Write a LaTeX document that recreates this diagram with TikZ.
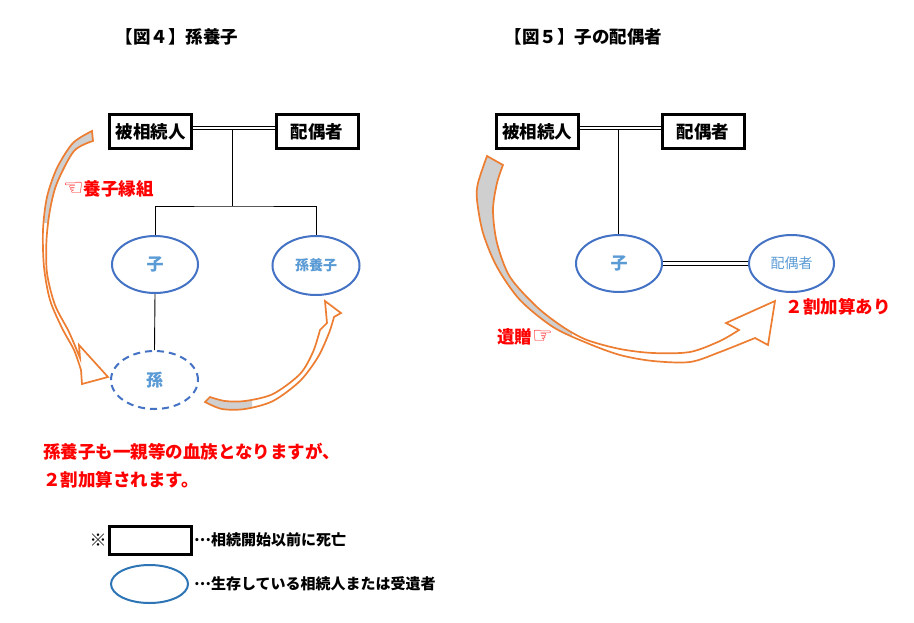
\documentclass[tikz,border=0pt]{standalone}
\usepackage{fontspec}
\setmainfont{Noto Sans CJK JP}
\newfontfamily\djv{DejaVu Sans}
\usetikzlibrary{calc,shapes.geometric}
\definecolor{arrorange}{HTML}{ED7D31}
\definecolor{ribgray}{HTML}{CFCFCF}
\definecolor{ellblue}{HTML}{4472C4}
\definecolor{txtblue}{HTML}{5B9BD5}
\definecolor{legblue}{HTML}{2E75B6}
\definecolor{jred}{HTML}{FF0000}
\newcommand{\hand}[1]{{\djv\fontsize{23}{20}\selectfont #1}}
\newcommand{\middots}{\raisebox{0.3em}{…}}
\begin{document}
\begin{tikzpicture}[x=1pt,y=-1pt,
  deadbox/.style={draw=black,line width=3pt,minimum width=82pt,minimum height=34pt,inner sep=0pt,font=\fontsize{17.5}{20}\selectfont\bfseries},
  legbox/.style={draw=black,line width=3pt,minimum width=82pt,minimum height=28pt,inner sep=0pt},
  liveell/.style={ellipse,draw=ellblue,line width=2pt,inner sep=0pt,text=txtblue,minimum width=86pt,minimum height=57pt},
  bigtxt/.style={font=\fontsize{17}{20}\selectfont\bfseries},
  legell/.style={ellipse,draw=legblue,line width=2pt,inner sep=0pt,minimum width=77pt,minimum height=38pt},
  titletxt/.style={font=\fontsize{17.5}{20}\selectfont\bfseries},
  redlbl/.style={text=jred,font=\fontsize{17.5}{20}\selectfont\bfseries,inner sep=0pt},
  legtxt/.style={font=\fontsize{15}{18}\selectfont\bfseries,inner sep=0pt,anchor=west},
  famline/.style={draw=black,line width=0.9pt},
  dbl/.style={draw=black,line width=1pt,double=white,double distance=2.6pt},
  ribbon/.style={draw=arrorange,line width=1.7pt,line join=miter}
]
\useasboundingbox[fill=white] (0,0) rectangle (914,622);

% titles
\node[titletxt] (tt1) at (177,37) {【図４】孫養子};
\node[titletxt] (tt2) at (583.5,37) {【図５】子の配偶者};

% ---------- left diagram ----------
\node[deadbox] (h1) at (150.5,131.5) {被相続人};
\node[deadbox] (s1) at (317,131.5) {配偶者};
\node[liveell,bigtxt] (c1) at (155,264.5) {子};
\node[liveell,minimum width=87pt,minimum height=59pt,font=\fontsize{14}{16}\selectfont\bfseries] (g1) at (316,265.5) {孫養子};
\node[ellipse,draw=ellblue,line width=2pt,dash pattern=on 7pt off 5pt,inner sep=0pt,text=txtblue,minimum width=87pt,minimum height=58pt,bigtxt] (gs) at (154.5,380) {孫};

\draw[dbl] ([yshift=3.5pt]h1.east) -- ([yshift=3.5pt]s1.west);
\coordinate (t1) at (232,130);
\coordinate (b1) at (232,206);
\draw[famline] (t1) -- (b1);
\draw[famline] (c1.north) |- (b1) -| (g1.north);
\draw[famline] (c1.south) -- (gs.north);

\node[redlbl,anchor=west] (l1) at (63,189) {\hand{☜}養子縁組};

% ribbon arrow 1 (被相続人 -> 孫)
\begin{scope}
\clip (0,0) rectangle (914,222);
\fill[ribgray] plot[smooth] coordinates {(92,131) (73,143) (57,168) (47,197) (43,230) (44,267)}
  -- plot[smooth] coordinates {(48,273) (47,240) (50,210) (57,183) (74,151) (93,141)} -- cycle;
\end{scope}
\draw[ribbon] plot[smooth] coordinates {(92,131) (73,143) (57,168) (47,197) (43,230) (44,267) (50,300) (62,328) (74,350) (81,370)}
  -- (82,384) -- (108,377) -- (79,345) -- (80,358)
  -- plot[smooth] coordinates {(80,358) (69,332) (55,305) (47,273) (46.5,240) (50,210) (57,183) (74,151) (93,141)} -- cycle;

% ribbon arrow 2 (孫 -> 孫養子)
\begin{scope}
\clip (0,0) rectangle (252,622);
\fill[ribgray] plot[smooth] coordinates {(205,402) (222,409) (245,409) (273,401)}
  -- plot[smooth] coordinates {(273,394) (245,401) (225,401) (210,397)} -- cycle;
\end{scope}
\draw[ribbon] plot[smooth] coordinates {(205,402) (222,409) (245,409) (273,401) (300,381) (318,357) (329,333) (334,317)}
  -- (341,313) -- (325,301) -- (327,323) -- (320,330)
  -- plot[smooth] coordinates {(320,330) (313,352) (300,374) (273,394) (245,401) (225,401) (210,397)} -- cycle;

% ---------- right diagram ----------
\node[deadbox] (h2) at (537,131.5) {被相続人};
\node[deadbox] (s2) at (703,131.5) {配偶者};
\node[liveell,bigtxt] (c2) at (619,263.5) {子};
\node[liveell,minimum width=85pt,font=\fontsize{14}{16}\selectfont] (sp2) at (791.5,263.5) {配偶者};

\draw[dbl] ([yshift=3.5pt]h2.east) -- ([yshift=3.5pt]s2.west);
\coordinate (t2) at (618,130);
\draw[famline] (t2) -- (t2 |- c2.north);
\draw[dbl] (c2.east) -- (sp2.west);

\node[redlbl] (l3) at (838,307) {２割加算あり};
\node[redlbl,anchor=west] (l2) at (497,337) {遺贈\hand{☞}};

% ribbon arrow 3 (被相続人 -> 配偶者)
\begin{scope}
\clip (0,0) rectangle (572,622);
\fill[ribgray] plot[smooth] coordinates {(487,156) (478,183) (477,200) (483,233) (497,267) (520,300) (553,327) (587,343)}
  -- plot[smooth] coordinates {(587,340) (563,327) (537,307) (510,277) (497,243) (493,210) (497,183) (503,165)} -- cycle;
\end{scope}
\draw[ribbon] plot[smooth] coordinates {(487,156) (478,183) (477,200) (483,233) (497,267) (520,300) (553,327) (587,343) (620,355) (653,361) (690,362) (720,352) (755,338)}
  -- (768,345) -- (775,301) -- (726,323) -- (739,330)
  -- plot[smooth] coordinates {(739,330) (720,341) (690,352) (653,353) (620,349) (587,340) (563,327) (537,307) (510,277) (497,243) (493,210) (497,183) (503,165)} -- cycle;

% ---------- notes ----------
\node[redlbl,anchor=west] (n1) at (43,452) {孫養子も一親等の血族となりますが、};
\node[redlbl,anchor=west] (n2) at (43,480) {２割加算されます。};

\node[font=\fontsize{17}{20}\selectfont] (ast) at (98,540) {※};
\node[legbox] (lg1) at (150.5,540.5) {};
\node[legtxt] (lt1) at (194,540) {\middots 相続開始以前に死亡};
\node[legell] (lg2) at (149.5,584) {};
\node[legtxt] (lt2) at (194,584) {\middots 生存している相続人または受遺者};
\end{tikzpicture}
\end{document}
